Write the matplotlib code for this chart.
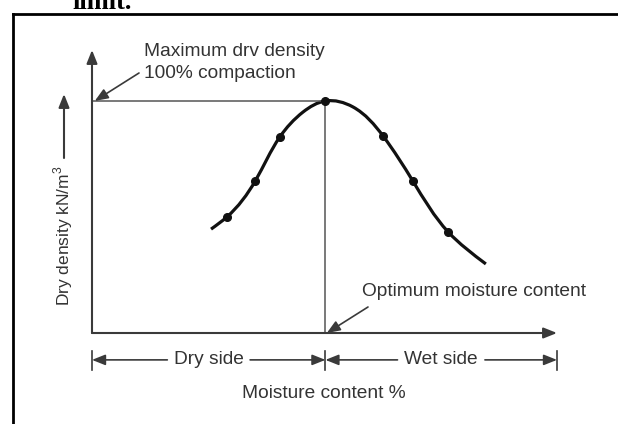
import numpy as np
import matplotlib
matplotlib.use('Agg')
import matplotlib.pyplot as plt
from matplotlib.path import Path
from matplotlib.patches import PathPatch
from matplotlib.lines import Line2D

plt.rcParams['font.family'] = ['Liberation Sans', 'DejaVu Sans']
plt.rcParams['mathtext.fontset'] = 'custom'
plt.rcParams['mathtext.rm'] = 'Liberation Sans'

W, H = 618, 424

# ---- data (arbitrary units) ----
moisture = [25.6, 29.0, 35.1, 40.4, 45.4, 50.2, 56.1, 62.6, 69.0, 76.6, 84.7]
density = [36.7, 41.0, 53.7, 69.3, 78.1, 82.0, 79.9, 69.6, 53.7, 35.7, 24.4]
test_moisture = [29.0, 35.1, 40.4, 50.2, 62.6, 69.0, 76.6]
test_density = [41.0, 53.7, 69.3, 82.0, 69.6, 53.7, 35.7]
omc = 50.2          # optimum moisture content
mdd = 82.0          # maximum dry density
x_max, y_max = 100, 100

TXT = '#333333'
AX = '#3a3a3a'

fig = plt.figure(figsize=(W / 100, H / 100), dpi=100)
fig.patch.set_facecolor('white')

def fpx(x, y):
    """figure pixels measured from top-left -> figure pixel coords"""
    return (x, H - y)

ax = fig.add_axes([92 / W, (H - 333) / H, (557 - 92) / W, (333 - 50) / H])
ax.set_xlim(0, x_max)
ax.set_ylim(0, y_max)
ax.axis('off')

axis_arrow = dict(arrowstyle='-|>,head_length=0.4,head_width=0.16', mutation_scale=20,
                  color=AX, lw=1.5, shrinkA=0, shrinkB=0)
ax.annotate('', xy=(0, y_max), xytext=(0, 0), arrowprops=axis_arrow, annotation_clip=False)
ax.annotate('', xy=(x_max, 0), xytext=(0, 0), arrowprops=axis_arrow, annotation_clip=False)

# reference lines
ax.plot([0, omc], [mdd, mdd], color='#555555', lw=1.1, solid_capstyle='butt')
ax.plot([omc, omc], [mdd, 0], color='#555555', lw=1.1, solid_capstyle='butt')

# smooth compaction curve: C2 cubic Bezier path through the read points
P = np.column_stack([moisture, density]).astype(float)
scale = np.array([ax.get_position().width * W / x_max, ax.get_position().height * H / y_max])
Q = P * scale
d = np.linalg.norm(np.diff(Q, axis=0), axis=1)
n = len(Q)
A = np.zeros((n, n))
R = np.zeros((n, 2))
A[0, 0], A[0, 1] = 2, 1
R[0] = 3 * (Q[1] - Q[0]) / d[0]
A[-1, -2], A[-1, -1] = 1, 2
R[-1] = 3 * (Q[-1] - Q[-2]) / d[-1]
for i in range(1, n - 1):
    A[i, i - 1] = d[i]
    A[i, i] = 2 * (d[i - 1] + d[i])
    A[i, i + 1] = d[i - 1]
    R[i] = 3 * (d[i] * (Q[i] - Q[i - 1]) / d[i - 1] + d[i - 1] * (Q[i + 1] - Q[i]) / d[i])
M = np.linalg.solve(A, R)
verts = [tuple(P[0])]
codes = [Path.MOVETO]
for i in range(n - 1):
    c1 = (Q[i] + M[i] * d[i] / 3) / scale
    c2 = (Q[i + 1] - M[i + 1] * d[i] / 3) / scale
    verts += [tuple(c1), tuple(c2), tuple(P[i + 1])]
    codes += [Path.CURVE4] * 3
ax.add_patch(PathPatch(Path(verts, codes), facecolor='none', edgecolor='#111111',
                       lw=2.3, capstyle='butt'))
ax.plot(test_moisture, test_density, 'o', color='#111111', ms=5.5, zorder=5)

# annotations
ann_arrow = dict(arrowstyle='-|>,head_length=0.5,head_width=0.2', mutation_scale=16,
                 color=AX, lw=1.2, shrinkA=0, shrinkB=0)
ax.annotate('', xy=(0.6, mdd), xycoords='data', xytext=fpx(139, 73),
            textcoords='figure pixels', arrowprops=ann_arrow, annotation_clip=False)
fig.text(144 / W, 1 - 51 / H, 'Maximum drv density', ha='left', va='center',
         fontsize=13.8, color=TXT)
fig.text(144 / W, 1 - 73 / H, '100% compaction', ha='left', va='center',
         fontsize=13.8, color=TXT)

ax.annotate('', xy=(omc + 0.3, 0), xycoords='data', xytext=fpx(368, 307),
            textcoords='figure pixels', arrowprops=ann_arrow, annotation_clip=False)
fig.text(474 / W, 1 - 292 / H, 'Optimum moisture content', ha='center', va='center',
         fontsize=13.8, color=TXT)

# y label with small arrow
fig.text(63 / W, 1 - 236 / H, r'Dry density kN/m$^{3}$', rotation=90, ha='center',
         va='center', fontsize=12.5, color=TXT)
ax.annotate('', xy=fpx(64, 94), xycoords='figure pixels', xytext=fpx(64, 158),
            textcoords='figure pixels', arrowprops=axis_arrow, annotation_clip=False)

# dry / wet side dimension line
y_dim = -9.5
dim_arrow = dict(arrowstyle='-|>,head_length=0.5,head_width=0.2', mutation_scale=16,
                 color=AX, lw=1.2, shrinkA=0, shrinkB=0)
sides = [('Dry side', 0, omc, 8.9), ('Wet side', omc, x_max, 9.4)]
for label, a, b, half in sides:
    mid = (a + b) / 2
    ax.text(mid, y_dim, label, ha='center', va='center', fontsize=13.8, color=TXT,
            clip_on=False)
    ax.annotate('', xy=(a, y_dim), xytext=(mid - half, y_dim), arrowprops=dim_arrow,
                annotation_clip=False)
    ax.annotate('', xy=(b, y_dim), xytext=(mid + half, y_dim), arrowprops=dim_arrow,
                annotation_clip=False)
for xt in [0, omc, x_max]:
    ax.plot([xt, xt], [-6.4, -13.1], color=AX, lw=1.2, clip_on=False)

fig.text(324 / W, 1 - 393 / H, 'Moisture content %', ha='center', va='center',
         fontsize=13.8, color=TXT)

# page frame and cut-off heading
fig.add_artist(Line2D([13 / W, 13 / W], [0, 1 - 14 / H], transform=fig.transFigure,
                      color='black', lw=2.0))
fig.add_artist(Line2D([13 / W, 1], [1 - 14 / H, 1 - 14 / H], transform=fig.transFigure,
                      color='black', lw=2.0))
fig.text(72 / W, 1 - 9 / H, 'limit.', family=['Liberation Serif', 'DejaVu Serif'],
         weight='bold', fontsize=19, va='baseline', ha='left', color='black')

fig.savefig('out.png', dpi=100)
